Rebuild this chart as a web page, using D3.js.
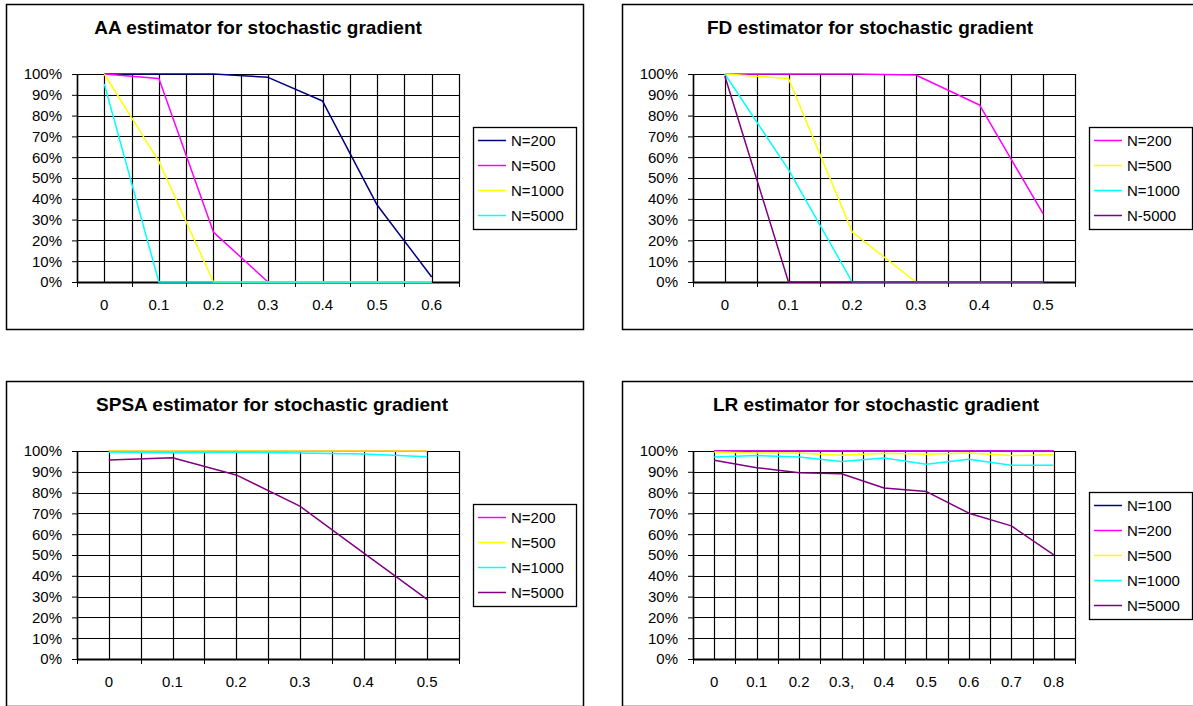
<!DOCTYPE html>
<html>
<head>
<meta charset="utf-8">
<script src="https://cdn.jsdelivr.net/npm/d3@7"></script>
<style>
  body { margin: 0; background: #fff; }
  svg { display: block; }
  text { font-family: "Liberation Sans", Arial, sans-serif; fill: #000; }
</style>
</head>
<body>
<svg width="1193" height="706"></svg>
<script>
// category labels (x axis)
const aaX = ['0', '0.1', '0.2', '0.3', '0.4', '0.5', '0.6']
const fdX = ['0', '0.1', '0.2', '0.3', '0.4', '0.5']
const spsaX = ['0', '0.1', '0.2', '0.3', '0.4', '0.5']
const lrX = ['0', '0.1', '0.2', '0.3,', '0.4', '0.5', '0.6', '0.7', '0.8']

// y axis ticks
const yTicks = [0, 0.1, 0.2, 0.3, 0.4, 0.5, 0.6, 0.7, 0.8, 0.9, 1]

// AA estimator
const aaN200 = [1, 1, 1, 0.984, 0.87, 0.37, 0.024]
const aaN500 = [1, 0.978, 0.24, 0, 0, 0, 0]
const aaN1000 = [1, 0.58, 0, 0, 0, 0, 0]
const aaN5000 = [0.952, 0, 0, 0, 0, 0, 0]

// FD estimator
const fdN200 = [1, 1, 1, 0.995, 0.851, 0.327]
const fdN500 = [1, 0.978, 0.241, 0, 0, 0]
const fdN1000 = [1, 0.54, 0, 0, 0, 0]
const fdN5000 = [0.99, 0, 0, 0, 0, 0]

// SPSA estimator
const spsaN200 = [1, 1, 1, 1, 1, 1]
const spsaN500 = [1, 1, 1, 1, 1, 1]
const spsaN1000 = [0.995, 0.991, 0.995, 0.99, 0.985, 0.972]
const spsaN5000 = [0.957, 0.968, 0.885, 0.735, 0.51, 0.287]

// LR estimator
const lrN100 = [1, 1, 1, 1, 1, 1, 1, 1, 1]
const lrN200 = [1, 1, 1, 1, 1, 1, 1, 1, 1]
const lrN500 = [0.995, 0.99, 0.99, 0.979, 0.989, 0.984, 0.99, 0.978, 0.982]
const lrN1000 = [0.971, 0.978, 0.971, 0.949, 0.966, 0.936, 0.96, 0.931, 0.931]
const lrN5000 = [0.955, 0.92, 0.896, 0.891, 0.822, 0.805, 0.701, 0.64, 0.501]

const navy = '#000080', magenta = '#ff00ff', yellow = '#ffff00', cyan = '#00ffff', purple = '#800080'

const charts = [
    { title: 'AA estimator for stochastic gradient', left: 6, top: 4, titleX: 252, cats: aaX,
      series: [
        { name: 'N=200', color: navy, values: aaN200 },
        { name: 'N=500', color: magenta, values: aaN500 },
        { name: 'N=1000', color: yellow, values: aaN1000 },
        { name: 'N=5000', color: cyan, values: aaN5000 }
      ] },
    { title: 'FD estimator for stochastic gradient', left: 622, top: 4, titleX: 248, cats: fdX,
      series: [
        { name: 'N=200', color: magenta, values: fdN200 },
        { name: 'N=500', color: yellow, values: fdN500 },
        { name: 'N=1000', color: cyan, values: fdN1000 },
        { name: 'N-5000', color: purple, values: fdN5000 }
      ] },
    { title: 'SPSA estimator for stochastic gradient', left: 6, top: 381, titleX: 266, cats: spsaX,
      series: [
        { name: 'N=200', color: magenta, values: spsaN200 },
        { name: 'N=500', color: yellow, values: spsaN500 },
        { name: 'N=1000', color: cyan, values: spsaN1000 },
        { name: 'N=5000', color: purple, values: spsaN5000 }
      ] },
    { title: 'LR estimator for stochastic gradient', left: 622, top: 381, titleX: 254, cats: lrX,
      series: [
        { name: 'N=100', color: navy, values: lrN100 },
        { name: 'N=200', color: magenta, values: lrN200 },
        { name: 'N=500', color: yellow, values: lrN500 },
        { name: 'N=1000', color: cyan, values: lrN1000 },
        { name: 'N=5000', color: purple, values: lrN5000 }
      ] }
]

const svg = d3.select('svg')

charts.forEach(drawChart)

function drawChart(c) {
    let frameW = 577, frameH = 325
    let plotLeft = 71, plotTop = 70, plotW = 382, plotH = 208

    let g = svg.append('g')
        .attr('transform', 'translate(' + c.left + ',' + c.top + ')')

    // outer frame
    g.append('rect')
        .attr('x', 0.5).attr('y', 0.5)
        .attr('width', frameW).attr('height', frameH)
        .attr('fill', 'none')
        .attr('stroke', '#000')
        .attr('stroke-width', 1.5)

    g.append('text')
        .attr('x', c.titleX)
        .attr('y', 23)
        .attr('dy', '0.35em')
        .attr('text-anchor', 'middle')
        .style('font-size', '19px')
        .style('font-weight', 'bold')
        .text(c.title)

    let p = g.append('g')
        .attr('transform', 'translate(' + plotLeft + ',' + plotTop + ')')

    let x = d3.scaleBand()
        .domain(c.cats)
        .range([0, plotW])
        .padding(0)
    let y = d3.scaleLinear()
        .domain([0, 1])
        .range([plotH, 0])

    let half = x.bandwidth() / 2
    let cx = function(d) { return x(d) + half }

    // vertical grid: band edges and band centres
    let vGrid = []
    c.cats.forEach(function(d) { vGrid.push(x(d)); vGrid.push(cx(d)) })
    vGrid.push(plotW)

    p.selectAll('.vgrid')
        .data(vGrid)
        .enter().append('line')
        .attr('x1', d => Math.round(d) + 0.5).attr('x2', d => Math.round(d) + 0.5)
        .attr('y1', 0).attr('y2', plotH)
        .attr('stroke', '#000')
        .attr('stroke-width', 1.2)

    p.selectAll('.hgrid')
        .data(yTicks)
        .enter().append('line')
        .attr('x1', 0).attr('x2', plotW)
        .attr('y1', d => Math.round(y(d)) + 0.5).attr('y2', d => Math.round(y(d)) + 0.5)
        .attr('stroke', '#000')
        .attr('stroke-width', 1.2)

    // y axis
    let yAxis = p.append('g')
        .call(d3.axisLeft(y)
            .tickValues(yTicks)
            .tickFormat(d3.format('.0%'))
            .tickSize(5)
            .tickSizeOuter(0)
            .tickPadding(10))
    yAxis.select('.domain').attr('stroke', '#000').attr('stroke-width', 1.5)
    yAxis.selectAll('text').style('font-size', '15px').attr('fill', '#000')
        .style('font-family', '"Liberation Sans", Arial, sans-serif')

    // x axis: labels at band centres, tick marks at band edges
    let xAxis = p.append('g')
        .attr('transform', 'translate(0,' + plotH + ')')
        .call(d3.axisBottom(x).tickSize(0).tickPadding(17))
    xAxis.select('.domain').attr('stroke', '#000').attr('stroke-width', 1.8)
    xAxis.selectAll('text').style('font-size', '15px').attr('fill', '#000')
        .style('font-family', '"Liberation Sans", Arial, sans-serif')

    let edges = c.cats.map(d => x(d)).concat([plotW])
    p.selectAll('.xtick')
        .data(edges)
        .enter().append('line')
        .attr('x1', d => Math.round(d) + 0.5).attr('x2', d => Math.round(d) + 0.5)
        .attr('y1', plotH).attr('y2', plotH + 5)
        .attr('stroke', '#000')

    // series lines
    let line = d3.line()
        .x((d, i) => cx(c.cats[i]))
        .y(d => y(d))

    c.series.forEach(function(s) {
        p.append('path')
            .datum(s.values)
            .attr('fill', 'none')
            .attr('stroke', s.color)
            .attr('stroke-width', 1.5)
            .attr('stroke-linejoin', 'round')
            .attr('d', line)
    })

    // legend
    let n = c.series.length
    let lh = 25 * n + 2
    let lg = p.append('g')
        .attr('transform', 'translate(' + (plotW + 14) + ',' + Math.round(plotH / 2 - lh / 2) + ')')
    lg.append('rect')
        .attr('x', 0.5).attr('y', 0.5)
        .attr('width', 103).attr('height', lh)
        .attr('fill', '#fff')
        .attr('stroke', '#000')
        .attr('stroke-width', 1.3)
    c.series.forEach(function(s, i) {
        let ly = 13.5 + 25 * i
        lg.append('line')
            .attr('x1', 5).attr('x2', 33)
            .attr('y1', ly).attr('y2', ly)
            .attr('stroke', s.color)
            .attr('stroke-width', 1.5)
        lg.append('text')
            .attr('x', 38)
            .attr('y', ly)
            .attr('dy', '0.35em')
            .style('font-size', '15px')
            .text(s.name)
    })
}
</script>
</body>
</html>
